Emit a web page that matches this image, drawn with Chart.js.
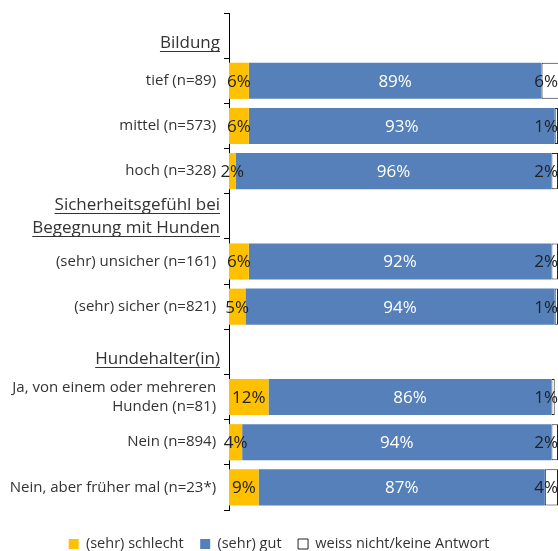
<!DOCTYPE html>
<html><head><meta charset="utf-8">
<script src="https://cdn.jsdelivr.net/npm/chart.js@4"></script>
<style>html,body{margin:0;padding:0;background:#fff}#wrap{width:558px;height:551px;position:relative}</style>
</head><body><div id="wrap"><canvas id="c"></canvas></div>
<script>
const categories = [
  ['', 'Bildung'],
  'tief (n=89)',
  'mittel (n=573)',
  'hoch (n=328)',
  ['Sicherheitsgefühl bei', 'Begegnung mit Hunden'],
  '(sehr) unsicher (n=161)',
  '(sehr) sicher (n=821)',
  ['', 'Hundehalter(in)'],
  ['Ja, von einem oder mehreren', 'Hunden (n=81)'],
  'Nein (n=894)',
  'Nein, aber früher mal (n=23*)'
];
const headerIndices = [0, 4, 7];
const seriesNames = ['(sehr) schlecht', '(sehr) gut', 'weiss nicht/keine Antwort'];
const schlecht   = [null, 6, 6, 2, null, 6, 5, null, 12, 4, 9];
const gut        = [null, 89, 93, 96, null, 92, 94, null, 86, 94, 87];
const weissNicht = [null, 6, 1, 2, null, 2, 1, null, 1, 2, 4];

const TEXT = '#333333';
const FONT = "'Open Sans', 'Noto Sans', sans-serif";
const TICK_LEN = 5;
const TICK_PAD = 4;
const LEGEND_FONT = 14.5;
const LEGEND_PAD = 16.5;

const labelPlugin = {
  id: 'segLabels',
  afterDatasetsDraw(chart) {
    const ctx = chart.ctx;
    ctx.save();
    ctx.font = '17px ' + FONT;
    ctx.textBaseline = 'middle';
    ctx.textAlign = 'center';
    chart.data.datasets.forEach((ds, di) => {
      const meta = chart.getDatasetMeta(di);
      meta.data.forEach((el, i) => {
        const v = ds.data[i];
        if (v === null || v === undefined) return;
        const txt = v + '%';
        const w = ctx.measureText(txt).width;
        let cx = (el.x + el.base) / 2;
        if (cx + w / 2 > chart.width) cx = chart.width - w / 2;
        ctx.fillStyle = di === 1 ? '#ffffff' : '#222222';
        ctx.fillText(txt, cx, el.y + 1);
      });
    });
    ctx.restore();
  }
};

const underlinePlugin = {
  id: 'headerUnderline',
  afterDraw(chart) {
    const scale = chart.scales.y;
    const ctx = chart.ctx;
    ctx.save();
    ctx.font = '17px ' + FONT;
    ctx.strokeStyle = TEXT;
    ctx.lineWidth = 1;
    const right = scale.right - TICK_LEN - TICK_PAD;
    headerIndices.forEach(i => {
      const lines = categories[i];
      const lh = i === 4 ? 23 : 15;
      const py = scale.getPixelForTick(i);
      lines.forEach((line, j) => {
        if (!line) return;
        const y = py + (1 - lines.length) * lh / 2 + j * lh;
        const w = ctx.measureText(line).width;
        const uy = Math.round(y + 8) + 0.5;
        ctx.beginPath();
        ctx.moveTo(right - w, uy);
        ctx.lineTo(right, uy);
        ctx.stroke();
      });
    });
    ctx.restore();
  }
};

const legendShiftPlugin = {
  id: 'legendShift',
  afterLayout(chart) {
    const lg = chart.legend;
    if (!lg) return;
    const targetCenter = 544;
    const newTop = targetCenter - LEGEND_PAD - LEGEND_FONT / 2;
    const d = newTop - lg.top;
    lg.top += d;
    lg.bottom += d;
  }
};

new Chart(document.getElementById('c'), {
  type: 'bar',
  data: {
    labels: categories,
    datasets: [
      { label: seriesNames[0], data: schlecht, backgroundColor: '#FFC000', borderWidth: 0 },
      { label: seriesNames[1], data: gut, backgroundColor: '#5580B9', borderWidth: 0 },
      { label: seriesNames[2], data: weissNicht, backgroundColor: '#ffffff', borderColor: '#222222', borderWidth: 1, borderSkipped: false }
    ]
  },
  options: {
    indexAxis: 'y',
    responsive: true,
    maintainAspectRatio: false,
    animation: false,
    barPercentage: 0.8,
    categoryPercentage: 1,
    layout: { padding: { top: 13, right: 0, left: 0, bottom: 0 } },
    scales: {
      x: { display: false, stacked: true, min: 0, max: 100 },
      y: {
        stacked: true,
        afterFit(scale) {
          scale.width = 229;
          scale.paddingTop = 0;
          scale.paddingBottom = 0;
        },
        border: { display: true, color: '#000000', width: 1 },
        grid: { drawOnChartArea: false, drawTicks: true, tickLength: TICK_LEN, color: '#000000', offset: true },
        ticks: {
          padding: TICK_PAD,
          color: TEXT,
          autoSkip: false,
          callback(value, index) {
            const lab = this.getLabelForValue(value);
            if (headerIndices.includes(index)) return lab;
            return Array.isArray(lab) ? lab.map(s => s + ' ') : lab + ' ';
          },
          font: (c) => {
            const i = c.index;
            if (i === 0 || i === 7) return { family: FONT, size: 17, lineHeight: '15px' };
            if (i === 4) return { family: FONT, size: 17, lineHeight: '23px' };
            return { family: FONT, size: 15, lineHeight: '18.5px' };
          }
        }
      }
    },
    plugins: {
      legend: {
        position: 'bottom',
        labels: { boxWidth: 10, boxHeight: 10, padding: LEGEND_PAD, color: TEXT, font: { family: FONT, size: LEGEND_FONT } }
      },
      tooltip: { enabled: false }
    }
  },
  plugins: [labelPlugin, underlinePlugin, legendShiftPlugin]
});
</script>
</body></html>
